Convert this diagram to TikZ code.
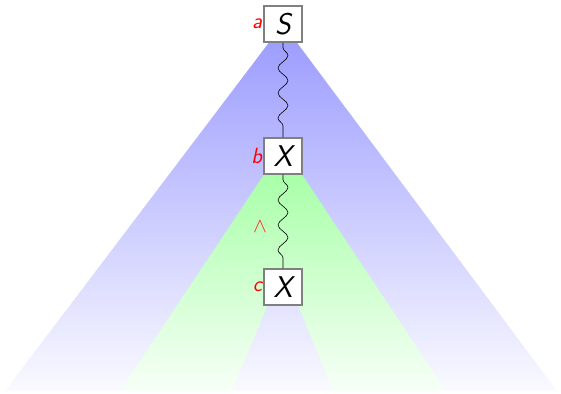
\documentclass[tikz,border=0pt]{standalone}
\usetikzlibrary{decorations.pathmorphing}
\begin{document}
\begin{tikzpicture}[x=1pt,y=-1pt,
  box/.style={draw=gray,line width=1.4pt,fill=white,minimum width=38pt,minimum height=36pt,inner sep=0pt,font=\fontsize{30}{32}\selectfont\sffamily\slshape},
  lbl/.style={text=red,font=\fontsize{22}{24}\selectfont\sffamily\slshape,anchor=east,inner sep=1pt},
  wig/.style={decorate,decoration={snake,amplitude=5pt,segment length=25pt,pre length=5pt,post length=5pt},line width=0.6pt,black}]
\useasboundingbox (0,0) rectangle (561,393);
% blue subtree
\shade[top color=blue!40,bottom color=blue!2] (283,24) -- (5,391) -- (557,391) -- cycle;
% green subtree with hole
\shade[even odd rule,top color=green!38,bottom color=green!3] (283,146) -- (120,391) -- (446,391) -- cycle
  (283,268) -- (232,391) -- (333,391) -- cycle;
\node[box] (s) at (283,24) {S};
\node[box] (x1) at (283,156) {X};
\node[box] (x2) at (283,287) {X};
\node[lbl] (la) at (s.west) {a};
\node[lbl] (lb) at (x1.west) {b};
\node[lbl] (lc) at (x2.west) {c};
\draw[wig] (s.south) -- (x1.north);
\draw[wig] (x1.south) -- (x2.north);
\node[text=red!85,font=\fontsize{20}{22}\selectfont] (w) at (260,227) {$\wedge$};
\end{tikzpicture}
\end{document}
